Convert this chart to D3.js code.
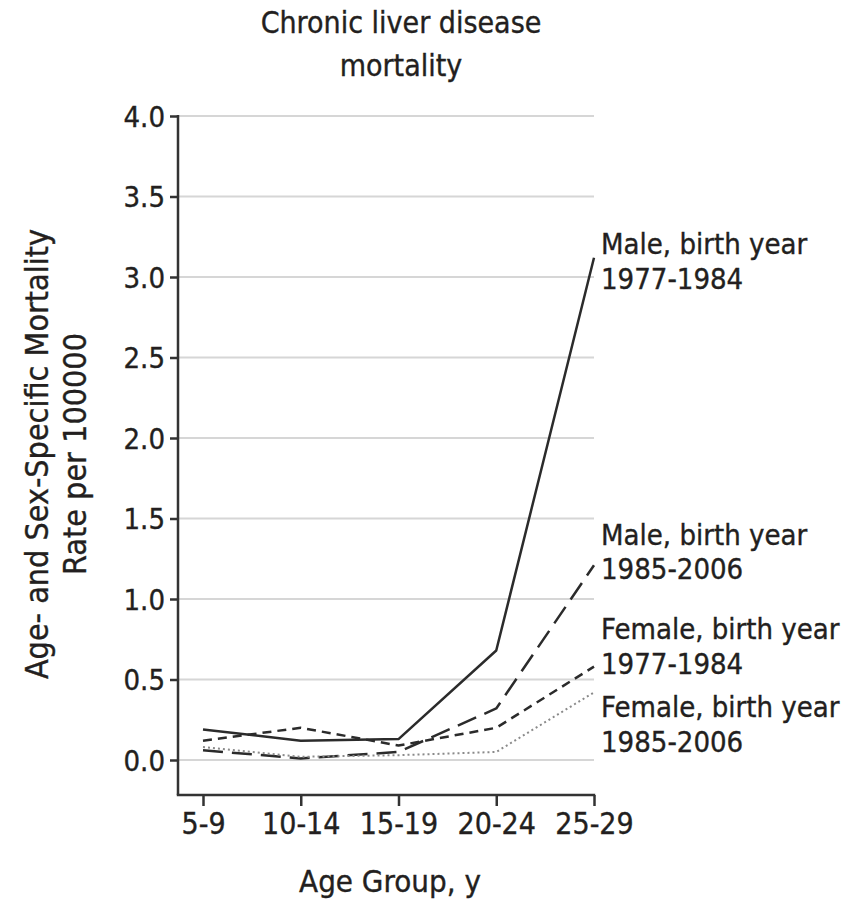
<!DOCTYPE html>
<html>
<head>
<meta charset="utf-8">
<script src="https://cdn.jsdelivr.net/npm/d3@7"></script>
<style>
  html, body { margin: 0; padding: 0; background: #fff; }
  text { font-family: "DejaVu Sans Condensed", "Liberation Sans Narrow", "Roboto", sans-serif; fill: #231f20; stroke: #231f20; stroke-width: 0.35px; }
</style>
</head>
<body>
<svg id="chart" width="864" height="901"></svg>
<script>
const ageGroups = ["5-9", "10-14", "15-19", "20-24", "25-29"];
const yTicks = [0, 0.5, 1.0, 1.5, 2.0, 2.5, 3.0, 3.5, 4.0];

const maleEarly   = [0.19, 0.12, 0.13, 0.68, 3.12];
const maleLate    = [0.06, 0.01, 0.05, 0.32, 1.21];
const femaleEarly = [0.12, 0.20, 0.09, 0.20, 0.58];
const femaleLate  = [0.08, 0.02, 0.03, 0.05, 0.42];

const seriesNames = [
  ["Male, birth year", "1977-1984"],
  ["Male, birth year", "1985-2006"],
  ["Female, birth year", "1977-1984"],
  ["Female, birth year", "1985-2006"]
];

const series = [
  { values: maleEarly,   name: seriesNames[0], dash: null,   color: "#2b2b2b", width: 2.5, labelDy: 21 },
  { values: maleLate,    name: seriesNames[1], dash: "20,9", color: "#2b2b2b", width: 2.5, labelDy: 4 },
  { values: femaleEarly, name: seriesNames[2], dash: "9,6",  color: "#2b2b2b", width: 2.5, labelDy: -3 },
  { values: femaleLate,  name: seriesNames[3], dash: "2,3",  color: "#8a8a8a", width: 2.0, labelDy: 49 }
];

const svg = d3.select("#chart");
const x = d3.scalePoint().domain(ageGroups).range([203, 594]);
const y = d3.scaleLinear().domain([0, 4]).range([760, 116]);
const axisX = 178, axisY = 795;

// grid
svg.append("g").selectAll("line").data(yTicks).join("line")
  .attr("x1", axisX).attr("x2", x(ageGroups[ageGroups.length - 1]))
  .attr("y1", d => y(d)).attr("y2", d => y(d))
  .attr("stroke", "#d6d6d6").attr("stroke-width", 2);

// y axis
const yAxis = d3.axisLeft(y).tickValues(yTicks).tickFormat(d3.format(".1f")).tickSize(8).tickPadding(5);
const gy = svg.append("g").attr("transform", `translate(${axisX},0)`).call(yAxis);
gy.select(".domain").remove();
gy.selectAll(".tick line").attr("stroke", "#333").attr("stroke-width", 2.5);
gy.selectAll(".tick text").style("font-size", "29px").attr("dy", "0.36em");
svg.append("line").attr("x1", axisX).attr("x2", axisX).attr("y1", y(4) - 1).attr("y2", axisY)
  .attr("stroke", "#333").attr("stroke-width", 2.5);

// x axis
const xAxis = d3.axisBottom(x).tickSize(11).tickPadding(7);
const gx = svg.append("g").attr("transform", `translate(0,${axisY})`).call(xAxis);
gx.select(".domain").remove();
gx.selectAll(".tick line").attr("stroke", "#333").attr("stroke-width", 2.5);
gx.selectAll(".tick text").style("font-size", "30px");
svg.append("line").attr("x1", axisX - 1.2).attr("x2", x(ageGroups[ageGroups.length - 1]) + 1.2)
  .attr("y1", axisY).attr("y2", axisY).attr("stroke", "#333").attr("stroke-width", 2.5);

// lines
const line = d3.line().x((d, i) => x(ageGroups[i])).y(d => y(d));
svg.append("g").selectAll("path").data(series).join("path")
  .attr("d", d => line(d.values))
  .attr("fill", "none")
  .attr("stroke", d => d.color)
  .attr("stroke-width", d => d.width)
  .attr("stroke-dasharray", d => d.dash)
  .attr("stroke-linejoin", "round");

// end labels
const lg = svg.append("g");
series.forEach(s => {
  const ly = y(s.values[s.values.length - 1]) + s.labelDy;
  const t = lg.append("text").attr("x", 601).attr("y", ly).style("font-size", "29px");
  t.append("tspan").attr("x", 601).attr("dy", "-0.85em").text(s.name[0]);
  t.append("tspan").attr("x", 601).attr("dy", "1.2em").text(s.name[1]);
});

// title
const title = svg.append("text").attr("x", 401).attr("y", 33).attr("text-anchor", "middle")
  .style("font-size", "30px");
title.append("tspan").attr("x", 401).text("Chronic liver disease");
title.append("tspan").attr("x", 401).attr("dy", "1.42em").text("mortality");

// y label
const yl = svg.append("text").attr("transform", "translate(48,454) rotate(-90)")
  .attr("text-anchor", "middle").style("font-size", "32px");
yl.append("tspan").attr("x", 0).text("Age- and Sex-Specific Mortality");
yl.append("tspan").attr("x", 0).attr("dy", "1.2em").text("Rate per 100000");

// x label
svg.append("text").attr("x", 390).attr("y", 892).attr("text-anchor", "middle")
  .style("font-size", "31px").text("Age Group, y");
</script>
</body>
</html>
